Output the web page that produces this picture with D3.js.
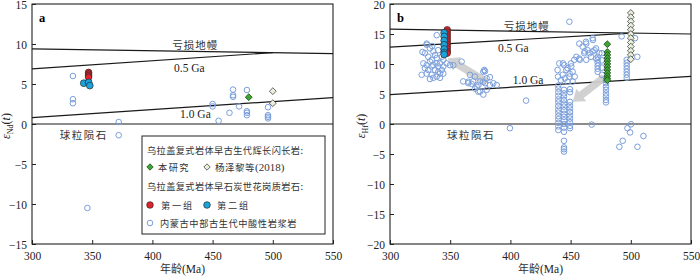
<!DOCTYPE html>
<html><head><meta charset="utf-8">
<script src="https://cdn.jsdelivr.net/npm/d3@7"></script>
<style>
html,body{margin:0;padding:0;background:#fff;}
svg{display:block;}
.num{font-family:"Liberation Serif","Times New Roman",serif;font-size:11.5px;fill:#222;}
.cjk{font-family:"Noto Sans CJK SC",sans-serif;fill:#333;}
</style></head>
<body>
<svg id="chart" width="700" height="276"></svg>
<script>
// ---------- data ----------
const ageTicks = [300, 350, 400, 450, 500, 550];
const ndTicks = [-15, -10, -5, 0, 5, 10, 15];
const hfTicks = [-20, -15, -10, -5, 0, 5, 10, 15, 20];

// reference evolution lines [age, epsilon]
const ndDepletedMantle = [[300, 9.4], [550, 8.8]];
const ndGa05 = [[300, 6.9], [500, 8.92]];
const ndGa10 = [[300, 0.8], [550, 3.3]];
const ndChur = [[300, 0], [550, 0]];
const hfDepletedMantle = [[300, 15.8], [550, 15.0]];
const hfGa05 = [[300, 12.8], [500, 15.16]];
const hfGa10 = [[300, 4.9], [550, 7.95]];
const hfChur = [[300, 0], [550, 0]];

// panel a (εNd)
const ndCentralMongolia = [[334,6.0],[334,3.1],[334,2.6],[372,0.25],[372,-1.4],[346,-10.5],[450,2.5],[450,2.2],[455,0.4],[464,1.4],[467,4.3],[467,3.6],[467,3.4],[472,2.2],[478.5,4.25],[478.5,1.6],[478.5,1.4],[478.5,1.1],[496,2.1],[496,1.1],[496,0.9],[496,0.7]];
const ndGroup1 = [[347,6.45],[347,6.25],[347,6.05],[347,5.85]];
const ndGroup2 = [[343,5.1],[347,5.2],[348,4.8]];
const ndThisStudy = [[480,3.35]];
const ndYang2018 = [[500,4.1],[500,2.6]];

// panel b (εHf)
const hfCentralMongolia = [
 [338.8,14.8],[330.5,13.4],[330.5,13.2],[333.2,12.6],[329,11.8],[336,12.1],[340,12.3],[331.8,11.2],[334.6,10.7],[338.8,11.0],
 [327.7,10.1],[330.5,9.8],[336,9.8],[341.5,10.1],[344.3,9.6],[331.8,9.0],[337.4,9.0],[340,8.7],[326.3,8.2],[334.6,8.2],
 [338.8,7.9],[341.5,8.4],[333.2,7.5],[336,7.7],[329,9.3],[340,9.6],[343,11.2],[333.2,10.4],[337.4,11.5],[341.5,7.7],
 [343,9.0],[344.3,10.7],[330.5,8.4],[338.8,10.1],[334.6,9.6],[347,10.1],[349.8,9.8],[352.6,9.8],[327,12.0],[335,13.0],
 [365,7.05],[367.8,6.7],[373.4,6.5],[370.6,5.9],[378.9,8.8],[380.3,7.6],[377.5,7.05],[374.8,5.4],[380.3,5.7],
 [359.5,10.4],[344.3,8.4],[366.4,8.2],[370.5,7.9],[377.5,8.7],[365,6.8],[369,7.1],[374.7,7.1],[372,6.2],[379,6.8],
 [383,6.5],[388.6,6.5],[373.3,5.4],[377.5,4.9],[385.8,6.8],[360.8,7.1],[383,7.8],[378.3,9.0],
 [449,17.05],[413,3.9],[399.6,-0.7],[467.5,-0.1],
 [440.6,10.1],[444.8,9.8],[439.2,9.0],[447.5,9.3],[443.4,8.2],[448.9,7.9],[451.7,8.7],[447.5,7.05],[442,7.3],[451.7,7.05],
 [450.3,10.1],[457.2,10.9],[461.4,11.8],[460,12.9],[464.1,12.3],[468.3,12.1],[466.9,11.2],[471.1,10.9],[462.7,13.7],[468.3,14.3],
 [471.1,12.6],[473.9,11.8],[457.2,13.4],[453,10.7],[463,13.4],[468.6,14.0],[461.7,12.1],[465.8,11.8],[469.9,12.3],[454.8,11.2],
 [457.6,10.7],[463,10.7],[443.7,10.1],[450.6,9.6],[446.5,9.0],[449.2,8.4],[439.6,7.9],[445.2,7.6],[453.4,7.9],
 [472.5,11.2],[472.5,10.7],[472.5,10.2],[472.5,9.7],[472.5,9.2],[472.5,8.7],[476,11.8],[476,10.6],[476,9.4],[476,8.2],
 [439.8,6.4],[439.8,5.9],[439.8,5.3],[439.8,4.7],[439.8,4.1],[439.8,3.6],[439.8,3.0],[439.8,2.4],[439.8,1.9],[439.8,1.3],[439.8,0.8],[439.8,0.2],[439.8,-0.4],[439.8,-1.0],
 [444.5,5.7],[444.5,5.1],[444.5,4.6],[444.5,4.0],[444.5,3.4],[444.5,2.9],[444.5,2.3],[444.5,1.7],[444.5,1.2],[444.5,0.6],[444.5,0.0],[444.5,-0.6],[444.5,-1.3],[444.5,-2.8],[444.5,-3.9],[444.5,-4.2],[444.5,-4.6],
 [449.5,5.8],[449.5,5.3],[449.5,3.7],[449.5,3.1],[449.5,2.6],[449.5,2.0],[449.5,1.4],[449.5,0.9],[449.5,0.3],[449.5,-0.3],[449.5,-0.7],
 [479.4,7.3],[479.4,6.8],[479.4,6.2],[479.4,5.7],[479.4,5.1],[479.4,4.6],[479.4,4.0],[479.4,3.6],
 [496.6,10.7],[496.6,10.2],[496.6,9.7],[496.6,9.2],[496.6,8.7],[496.6,8.2],[496.6,7.7],
 [492.4,14.6],[503.5,14.3],[505.4,11.2],
 [500.2,-0.05],[497.2,-0.7],[499.4,-1.4],[510.5,-2.0],[493.3,-2.8],[490.5,-3.8],[505.5,-3.8]
];
const hfGroup1 = [[347.5,15.7],[347.5,15.3],[347.5,14.9],[347.5,14.5],[347.5,14.1],[347.5,13.7],[347.5,13.3],[347.5,12.9],[347.5,12.5],[347.5,12.1],[347.5,11.8]];
const hfGroup2 = [[345,15.2],[345,14.6],[345,13.9],[345,13.2],[345,12.5],[345,11.9],[345,11.6]];
const hfThisStudy = [[480.5,13.3],[480.5,12.0],[480.5,11.5],[480.5,11.0],[480.5,10.5],[480.5,10.0],[480.5,9.5],[480.5,9.0],[480.5,8.5],[480.5,8.0],[480.5,7.6],[480.5,7.3]];
const hfYang2018 = [[500,18.5],[500,17.8],[500,17.1],[500,16.4],[500,15.7],[500,15.0],[500,14.3],[500,13.6],[500,12.9],[500,12.2],[500,11.5],[500,10.8]];
// trend arrows [from, to]
const hfArrows = [[[380.5,6.95],[347.9,10.95]], [[478,7.8],[451.7,3.7]]];

const legendTitle1 = "乌拉盖复式岩体早古生代辉长闪长岩:";
const legendTitle2 = "乌拉盖复式岩体早石炭世花岗质岩石:";
const legendThisStudy = "本研究";
const legendYang = "杨泽黎等(2018)";
const legendG1 = "第一组";
const legendG2 = "第二组";
const legendOpen = "内蒙古中部古生代中酸性岩浆岩";

// ---------- styles ----------
const C = {
  open: "#7a9fdc",
  red: "#e4222a",
  blue: "#1ba3dd",
  green: "#3ea633",
  light: "#e8efdc",
  stroke: "#2a2a2a"
};

const svg = d3.select("#chart");

function drawPanel(cfg) {
  const x = d3.scaleLinear().domain([300, 550]).range([cfg.x0, cfg.x1]);
  const y = d3.scaleLinear().domain(cfg.yDomain).range([cfg.y1, cfg.y0]);
  const g = svg.append("g");
  const line = d3.line().x(d => x(d[0])).y(d => y(d[1]));

  // axes (inward ticks)
  const ax = g.append("g").attr("transform", `translate(0,${cfg.y1})`)
    .call(d3.axisBottom(x).tickValues(ageTicks).tickSize(-4).tickPadding(8).tickFormat(d3.format("d")));
  const ay = g.append("g").attr("transform", `translate(${cfg.x0},0)`)
    .call(d3.axisLeft(y).tickValues(cfg.yTicks).tickSize(-4).tickPadding(5)
      .tickFormat(d => d < 0 ? "\u2212" + Math.abs(d) : d));
  [ax, ay].forEach(a => {
    a.select(".domain").remove();
    a.selectAll("line").attr("stroke", "#222").attr("stroke-width", 1);
    a.selectAll("text").attr("class", "num").attr("fill", "#222").style("font-size", "11.5px")
      .style("font-family", '"Liberation Serif",serif');
  });
  ay.selectAll("text").attr("dy", "0.35em");

  // frame
  g.append("rect").attr("x", cfg.x0).attr("y", cfg.y0)
    .attr("width", cfg.x1 - cfg.x0).attr("height", cfg.y1 - cfg.y0)
    .attr("fill", "none").attr("stroke", "#222").attr("stroke-width", 1.1);

  // reference lines
  [cfg.dm, cfg.g05, cfg.g10, cfg.chur].forEach(l => {
    g.append("path").attr("d", line(l)).attr("fill", "none")
      .attr("stroke", "#1a1a1a").attr("stroke-width", 1.2);
  });

  // labels
  cfg.labels.forEach(l => {
    const t = g.append("text")
      .attr("x", x(l.a)).attr("y", y(l.e)).attr("class", l.cls)
      .style("font-size", l.s + "px").text(l.t);
    if (l.ls) t.style("letter-spacing", l.ls + "px");
  });
  g.append("text").attr("x", cfg.x0 + 7).attr("y", cfg.y0 + 18)
    .style("font-family", '"Liberation Serif",serif').style("font-weight", "bold")
    .style("font-size", "12.5px").text(cfg.letter);

  // y axis title
  const yt = g.append("text")
    .attr("transform", `translate(${cfg.titleX},${(cfg.y0 + cfg.y1) / 2 + 2}) rotate(-90)`)
    .attr("text-anchor", "middle")
    .style("font-family", '"Liberation Serif",serif').style("font-size", "12px").attr("fill", "#222");
  yt.append("tspan").style("font-style", "italic").text("ε");
  yt.append("tspan").attr("dy", 3).style("font-size", "8px").text(cfg.sub);
  yt.append("tspan").attr("dy", -3).text("(");
  yt.append("tspan").style("font-style", "italic").text("t");
  yt.append("tspan").text(")");

  // x axis title
  const xt = g.append("text").attr("x", (cfg.x0 + cfg.x1) / 2).attr("y", 273)
    .attr("text-anchor", "middle").style("font-size", "11.5px").attr("fill", "#222");
  xt.append("tspan").style("font-family", '"Noto Sans CJK SC",sans-serif').style("font-size", "11px").attr("fill", "#333").text("年龄");
  xt.append("tspan").style("font-family", '"Liberation Serif",serif').text("(Ma)");

  // arrows
  (cfg.arrows || []).forEach(([f, t]) => {
    const x1 = x(f[0]), y1 = y(f[1]), x2 = x(t[0]), y2 = y(t[1]);
    const len = Math.hypot(x2 - x1, y2 - y1);
    const ux = (x2 - x1) / len, uy = (y2 - y1) / len, px = -uy, py = ux;
    const hw = 3.8, hh = 8, hl = 11;
    const bx = x2 - ux * hl, by = y2 - uy * hl;
    const pts = [
      [x1 + px * hw, y1 + py * hw], [bx + px * hw, by + py * hw], [bx + px * hh, by + py * hh],
      [x2, y2], [bx - px * hh, by - py * hh], [bx - px * hw, by - py * hw], [x1 - px * hw, y1 - py * hw]
    ];
    g.append("polygon").attr("points", pts.map(p => p.join(",")).join(" "))
      .attr("fill", "#cfcfcf").attr("opacity", 0.95);
  });

  // open circles
  g.append("g").selectAll("circle").data(cfg.open).join("circle")
    .attr("cx", d => x(d[0])).attr("cy", d => y(d[1])).attr("r", 2.8)
    .attr("fill", "none").attr("stroke", C.open).attr("stroke-width", 1);

  // group1 (red) then group2 (blue)
  g.append("g").selectAll("circle").data(cfg.g1).join("circle")
    .attr("cx", d => x(d[0])).attr("cy", d => y(d[1])).attr("r", 3.3)
    .attr("fill", C.red).attr("stroke", C.stroke).attr("stroke-width", 0.7);
  g.append("g").selectAll("circle").data(cfg.g2).join("circle")
    .attr("cx", d => x(d[0])).attr("cy", d => y(d[1])).attr("r", 3.4)
    .attr("fill", C.blue).attr("stroke", C.stroke).attr("stroke-width", 0.7);

  const diamond = d3.symbol().type(d3.symbolDiamond2).size(30);
  g.append("g").selectAll("path").data(cfg.yang).join("path")
    .attr("transform", d => `translate(${x(d[0])},${y(d[1])})`).attr("d", diamond)
    .attr("fill", C.light).attr("stroke", "#444").attr("stroke-width", 0.8);
  g.append("g").selectAll("path").data(cfg.study).join("path")
    .attr("transform", d => `translate(${x(d[0])},${y(d[1])})`).attr("d", diamond)
    .attr("fill", C.green).attr("stroke", "#1e4a18").attr("stroke-width", 0.8);

  return { g, x, y };
}

drawPanel({
  x0: 32, x1: 333, y0: 4, y1: 244, yDomain: [-15, 15], yTicks: ndTicks, letter: "a", sub: "Nd", titleX: 10,
  dm: ndDepletedMantle, g05: ndGa05, g10: ndGa10, chur: ndChur,
  labels: [
    { t: "亏损地幔", a: 416.5, e: 9.4, cls: "cjk", s: 10.5, ls: 1 },
    { t: "0.5 Ga", a: 418, e: 6.5, cls: "num", s: 11.5 },
    { t: "1.0 Ga", a: 423, e: 0.75, cls: "num", s: 11.5 },
    { t: "球粒陨石", a: 323, e: -1.9, cls: "cjk", s: 10.5, ls: 1.5 }
  ],
  open: ndCentralMongolia, g1: ndGroup1, g2: ndGroup2, study: ndThisStudy, yang: ndYang2018
});

drawPanel({
  x0: 390, x1: 691, y0: 4, y1: 244, yDomain: [-20, 20], yTicks: hfTicks, letter: "b", sub: "Hf", titleX: 365,
  dm: hfDepletedMantle, g05: hfGa05, g10: hfGa10, chur: hfChur, arrows: hfArrows,
  labels: [
    { t: "亏损地幔", a: 394.5, e: 15.67, cls: "cjk", s: 10.5, ls: 1 },
    { t: "0.5 Ga", a: 389.7, e: 12.0, cls: "num", s: 11.5 },
    { t: "1.0 Ga", a: 402, e: 6.67, cls: "num", s: 11.5 },
    { t: "球粒陨石", a: 347.3, e: -2.5, cls: "cjk", s: 10.5, ls: 1.5 }
  ],
  open: hfCentralMongolia, g1: hfGroup1, g2: hfGroup2, study: hfThisStudy, yang: hfYang2018
});

// ---------- legend (panel a) ----------
const lg = svg.append("g");
lg.append("rect").attr("x", 142).attr("y", 136).attr("width", 183).attr("height", 98)
  .attr("fill", "#fff").attr("stroke", "#222").attr("stroke-width", 1);
const lt = (txt, xx, yy) => lg.append("text").attr("x", xx).attr("y", yy).attr("class", "cjk")
  .style("font-size", "9.2px").style("letter-spacing", "0.4px").text(txt);
lt(legendTitle1, 147, 153.5);
const dsym = d3.symbol().type(d3.symbolDiamond2).size(26);
lg.append("path").attr("transform", "translate(150,167)").attr("d", dsym)
  .attr("fill", C.green).attr("stroke", "#1e4a18").attr("stroke-width", 0.8);
lt(legendThisStudy, 158, 170.5).style("letter-spacing", "1.5px");
lg.append("path").attr("transform", "translate(207,167)").attr("d", dsym)
  .attr("fill", C.light).attr("stroke", "#444").attr("stroke-width", 0.8);
const yt2 = lg.append("text").attr("x", 215).attr("y", 170.5).style("font-size", "9.5px").attr("fill", "#333");
yt2.append("tspan").style("font-family", '"Noto Sans CJK SC",sans-serif').style("letter-spacing", "0.5px").text(legendYang.slice(0, 4));
yt2.append("tspan").style("font-family", '"Liberation Serif",serif').style("font-size", "11px").text(legendYang.slice(4));
lt(legendTitle2, 147, 189.5);
lg.append("circle").attr("cx", 150).attr("cy", 205).attr("r", 3.3)
  .attr("fill", C.red).attr("stroke", C.stroke).attr("stroke-width", 0.7);
lt(legendG1, 161, 208.5).style("letter-spacing", "1.8px");
lg.append("circle").attr("cx", 207).attr("cy", 205).attr("r", 3.3)
  .attr("fill", C.blue).attr("stroke", C.stroke).attr("stroke-width", 0.7);
lt(legendG2, 217, 208.5).style("letter-spacing", "1.8px");
lg.append("circle").attr("cx", 150).attr("cy", 223).attr("r", 2.8)
  .attr("fill", "none").attr("stroke", C.open).attr("stroke-width", 1);
lt(legendOpen, 160, 226.5).style("letter-spacing", "0.6px");
</script>
</body></html>
